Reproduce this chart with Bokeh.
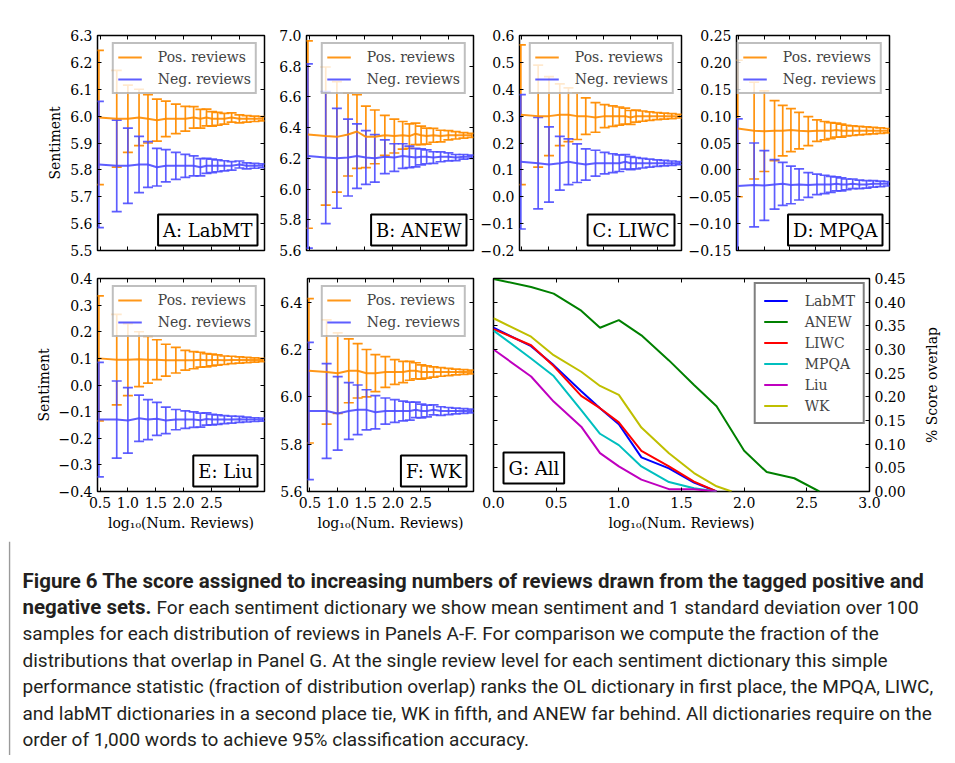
from bokeh.plotting import figure
from bokeh.models import (Range1d, LinearAxis, FixedTicker, Whisker, TeeHead,
                          ColumnDataSource, Legend, LegendItem, Label, Span)
from bokeh.layouts import row, column
from bokeh.embed import file_html
from bokeh.resources import INLINE

SERIF = "DejaVu Serif"
SANS = "Roboto"
ORANGE = "#ff8c00"
BLUE = "#4d4dff"

# ---------------- data ----------------
x_rev = [0.48, 0.80, 1.00, 1.20, 1.36, 1.52, 1.68, 1.86, 2.03, 2.18,
         2.30, 2.41, 2.51, 2.61, 2.73, 2.86, 3.00, 3.13, 3.27, 3.42]
x_ticks = [0.5, 1.0, 1.5, 2.0, 2.5, 3.0]
x_lim = (0.455, 3.45)

A_pos_mean = [5.995, 5.99, 5.99, 5.995, 5.99, 5.985, 5.99, 5.99, 5.99, 5.995, 5.99, 5.995, 5.99, 5.99, 5.99, 5.995, 5.99, 5.99, 5.99, 5.99]
A_pos_std = [0.25, 0.18, 0.125, 0.105, 0.09, 0.078, 0.066, 0.055, 0.046, 0.04, 0.035, 0.031, 0.027, 0.024, 0.02, 0.017, 0.015, 0.012, 0.01, 0.008]
A_neg_mean = [5.82, 5.815, 5.815, 5.82, 5.82, 5.81, 5.815, 5.815, 5.815, 5.815, 5.81, 5.815, 5.815, 5.815, 5.815, 5.815, 5.82, 5.815, 5.815, 5.815]
A_neg_std = [0.235, 0.17, 0.14, 0.105, 0.085, 0.07, 0.06, 0.05, 0.043, 0.037, 0.032, 0.028, 0.025, 0.022, 0.019, 0.016, 0.013, 0.011, 0.009, 0.007]

B_pos_mean = [6.355, 6.345, 6.34, 6.355, 6.375, 6.34, 6.34, 6.35, 6.345, 6.35, 6.345, 6.36, 6.35, 6.345, 6.35, 6.345, 6.35, 6.35, 6.35, 6.35]
B_pos_std = [0.61, 0.45, 0.36, 0.27, 0.24, 0.2, 0.175, 0.13, 0.11, 0.09, 0.08, 0.07, 0.06, 0.052, 0.045, 0.038, 0.03, 0.024, 0.018, 0.013]
B_neg_mean = [6.215, 6.205, 6.2, 6.205, 6.215, 6.205, 6.2, 6.21, 6.205, 6.215, 6.21, 6.205, 6.21, 6.21, 6.205, 6.21, 6.21, 6.205, 6.21, 6.21]
B_neg_std = [0.6, 0.43, 0.325, 0.25, 0.21, 0.175, 0.155, 0.11, 0.09, 0.08, 0.07, 0.06, 0.052, 0.045, 0.038, 0.032, 0.026, 0.02, 0.015, 0.011]

C_pos_mean = [0.305, 0.3, 0.3, 0.305, 0.305, 0.3, 0.3, 0.295, 0.3, 0.3, 0.3, 0.3, 0.295, 0.3, 0.3, 0.3, 0.3, 0.3, 0.3, 0.3]
C_pos_std = [0.26, 0.19, 0.147, 0.115, 0.1, 0.087, 0.068, 0.055, 0.043, 0.038, 0.034, 0.03, 0.026, 0.022, 0.019, 0.016, 0.013, 0.011, 0.009, 0.007]
C_neg_mean = [0.13, 0.125, 0.12, 0.125, 0.13, 0.125, 0.12, 0.125, 0.125, 0.125, 0.125, 0.13, 0.125, 0.125, 0.125, 0.125, 0.125, 0.125, 0.125, 0.125]
C_neg_std = [0.25, 0.17, 0.14, 0.1, 0.085, 0.072, 0.058, 0.048, 0.04, 0.035, 0.031, 0.027, 0.024, 0.021, 0.018, 0.015, 0.012, 0.01, 0.008, 0.006]

D_pos_mean = [0.077, 0.073, 0.072, 0.073, 0.073, 0.074, 0.073, 0.072, 0.073, 0.073, 0.073, 0.074, 0.073, 0.073, 0.073, 0.073, 0.073, 0.073, 0.073, 0.073]
D_pos_std = [0.127, 0.09, 0.075, 0.056, 0.047, 0.04, 0.034, 0.027, 0.02, 0.017, 0.015, 0.013, 0.012, 0.01, 0.009, 0.008, 0.007, 0.006, 0.005, 0.004]
D_neg_mean = [-0.03, -0.028, -0.029, -0.027, -0.026, -0.028, -0.027, -0.028, -0.027, -0.027, -0.027, -0.026, -0.027, -0.027, -0.026, -0.027, -0.027, -0.026, -0.026, -0.026]
D_neg_std = [0.125, 0.078, 0.065, 0.046, 0.04, 0.035, 0.029, 0.023, 0.019, 0.017, 0.015, 0.013, 0.012, 0.01, 0.009, 0.008, 0.007, 0.006, 0.005, 0.004]

E_pos_mean = [0.1, 0.095, 0.095, 0.097, 0.095, 0.095, 0.093, 0.093, 0.093, 0.093, 0.095, 0.093, 0.094, 0.094, 0.093, 0.094, 0.094, 0.094, 0.094, 0.094]
E_pos_std = [0.235, 0.17, 0.135, 0.103, 0.088, 0.075, 0.06, 0.048, 0.037, 0.032, 0.028, 0.025, 0.022, 0.019, 0.016, 0.014, 0.012, 0.01, 0.008, 0.006]
E_neg_mean = [-0.13, -0.13, -0.133, -0.125, -0.13, -0.127, -0.133, -0.13, -0.13, -0.13, -0.132, -0.128, -0.13, -0.13, -0.13, -0.13, -0.129, -0.13, -0.13, -0.13]
E_neg_std = [0.215, 0.145, 0.123, 0.087, 0.075, 0.062, 0.05, 0.038, 0.033, 0.029, 0.026, 0.023, 0.02, 0.018, 0.015, 0.013, 0.011, 0.009, 0.007, 0.006]

F_pos_mean = [6.11, 6.105, 6.1, 6.11, 6.11, 6.1, 6.1, 6.105, 6.105, 6.105, 6.11, 6.11, 6.105, 6.105, 6.105, 6.105, 6.105, 6.105, 6.105, 6.105]
F_pos_std = [0.305, 0.22, 0.17, 0.135, 0.115, 0.1, 0.078, 0.065, 0.052, 0.045, 0.04, 0.034, 0.03, 0.026, 0.022, 0.018, 0.015, 0.012, 0.01, 0.008]
F_neg_mean = [5.94, 5.94, 5.93, 5.94, 5.945, 5.945, 5.935, 5.94, 5.94, 5.94, 5.94, 5.945, 5.94, 5.94, 5.945, 5.94, 5.94, 5.94, 5.94, 5.94]
F_neg_std = [0.29, 0.2, 0.155, 0.12, 0.105, 0.085, 0.07, 0.055, 0.048, 0.042, 0.038, 0.033, 0.029, 0.025, 0.021, 0.018, 0.015, 0.012, 0.01, 0.008]

A_yticks = [5.5, 5.6, 5.7, 5.8, 5.9, 6.0, 6.1, 6.2, 6.3]
B_yticks = [5.6, 5.8, 6.0, 6.2, 6.4, 6.6, 6.8, 7.0]
C_yticks = [-0.2, -0.1, 0.0, 0.1, 0.2, 0.3, 0.4, 0.5, 0.6]
D_yticks = [-0.15, -0.1, -0.05, 0.0, 0.05, 0.1, 0.15, 0.2, 0.25]
E_yticks = [-0.4, -0.3, -0.2, -0.1, 0.0, 0.1, 0.2, 0.3, 0.4]
F_yticks = [5.6, 5.8, 6.0, 6.2, 6.4]

# Panel G: fraction of overlap
g_x = [0.0, 0.30, 0.48, 0.70, 0.85, 1.00, 1.18, 1.40, 1.60, 1.78, 2.00, 2.18, 2.40, 2.60]
wk_x = [0.0, 0.30, 0.48, 0.70, 0.85, 1.00, 1.18, 1.40, 1.60, 1.78, 1.90]
G_labmt = [0.346, 0.307, 0.267, 0.212, 0.176, 0.142, 0.072, 0.049, 0.019, 0.0]
G_anew = [0.449, 0.432, 0.418, 0.382, 0.346, 0.362, 0.33, 0.277, 0.225, 0.18, 0.086, 0.041, 0.028, 0.0]
G_liwc = [0.343, 0.309, 0.265, 0.202, 0.176, 0.146, 0.086, 0.053, 0.021, 0.0]
G_mpqa = [0.34, 0.281, 0.244, 0.172, 0.122, 0.098, 0.053, 0.02, 0.007, 0.0]
G_liu = [0.3, 0.243, 0.19, 0.137, 0.081, 0.053, 0.025, 0.005, 0.005, 0.0]
G_wk = [0.366, 0.327, 0.288, 0.253, 0.223, 0.204, 0.135, 0.081, 0.039, 0.011, 0.0]
G_names = ["LabMT", "ANEW", "LIWC", "MPQA", "Liu", "WK"]
G_colors = ["#0000ff", "#008000", "#ff0000", "#00bfbf", "#bf00bf", "#bfbf00"]
G_xticks = [0.0, 0.5, 1.0, 1.5, 2.0, 2.5, 3.0]
G_yticks = [0.0, 0.05, 0.1, 0.15, 0.2, 0.25, 0.3, 0.35, 0.4, 0.45]
G_xlim = (0.0, 3.0)
G_ylim = (0.0, 0.45)

caption_bold_1 = "Figure 6  The score assigned to increasing numbers of reviews drawn from the tagged positive and"
caption_bold_2 = "negative sets."
caption_rest_2 = "For each sentiment dictionary we show mean sentiment and 1 standard deviation over 100"
caption_lines = [
    "samples for each distribution of reviews in Panels A-F. For comparison we compute the fraction of the",
    "distributions that overlap in Panel G. At the single review level for each sentiment dictionary this simple",
    "performance statistic (fraction of distribution overlap) ranks the OL dictionary in first place, the MPQA, LIWC,",
    "and labMT dictionaries in a second place tie, WK in fifth, and ANEW far behind. All dictionaries require on the",
    "order of 1,000 words to achieve 95% classification accuracy.",
]


def fmt(t, d):
    s = f"{t:.{d}f}"
    if s.startswith("-"):
        s = "\u2212" + s[1:]
    if s.strip("\u22120.") == "":
        s = s.replace("\u2212", "")
    return s


def style_axis(ax, ticks, labels=None):
    ax.ticker = FixedTicker(ticks=ticks)
    ax.major_tick_in = 4
    ax.major_tick_out = 0
    ax.major_tick_line_color = "black"
    ax.major_tick_line_width = 1
    ax.minor_tick_line_color = None
    ax.axis_line_color = None
    if labels is None:
        ax.major_label_overrides = {t: "" for t in ticks}
        ax.major_label_text_font_size = "0px"
        ax.major_label_standoff = 0
    else:
        ax.major_label_overrides = {t: l for t, l in zip(ticks, labels)}
        ax.major_label_text_font = SERIF
        ax.major_label_text_font_size = "14px"
        ax.major_label_text_color = "black"
        ax.major_label_standoff = 5
    ax.axis_label_text_font = SERIF
    ax.axis_label_text_font_size = "14px"
    ax.axis_label_text_font_style = "normal"
    ax.axis_label_text_color = "black"


def make_fig(width, height, xr, yr, left, right, top, bottom, yloc="left"):
    p = figure(width=width, height=height, x_range=Range1d(*xr), y_range=Range1d(*yr),
               output_backend="svg", toolbar_location=None, y_axis_location=yloc,
               min_border_left=left, min_border_right=right,
               min_border_top=top, min_border_bottom=bottom)
    p.xgrid.visible = False
    p.ygrid.visible = False
    p.outline_line_color = "black"
    p.outline_line_width = 1.5
    p.background_fill_color = "white"
    p.border_fill_color = "white"
    return p


def panel_label(p, text, x, y, align, xoff, yoff):
    p.add_layout(Label(x=x, y=y, x_offset=xoff, y_offset=yoff, text=text,
                       text_align=align, text_baseline="bottom",
                       text_font=SERIF, text_font_size="18px", text_color="black",
                       background_fill_color="white", border_line_color="black",
                       border_line_width=2, padding=5))


def sentiment_panel(name, pm, ps, nm, ns, ylim, yticks, ydec, width, height,
                    left, top, bottom, xlabels, ylabel):
    p = make_fig(width, height, x_lim, ylim, left, 4, top, bottom)
    for mean, std, col, al in ((pm, ps, ORANGE, 0.95), (nm, ns, BLUE, 0.9)):
        src = ColumnDataSource(dict(x=x_rev,
                                    lo=[m - s for m, s in zip(mean, std)],
                                    hi=[m + s for m, s in zip(mean, std)]))
        p.add_layout(Whisker(source=src, base="x", lower="lo", upper="hi",
                             dimension="height", line_color=col, line_width=1.7, line_alpha=al,
                             lower_head=TeeHead(size=10, line_color=col, line_width=1.7, line_alpha=al),
                             upper_head=TeeHead(size=10, line_color=col, line_width=1.7, line_alpha=al)))
    rp = p.line(x_rev, pm, line_color=ORANGE, line_width=2, line_alpha=0.9)
    rn = p.line(x_rev, nm, line_color=BLUE, line_width=2, line_alpha=0.9)

    if xlabels:
        style_axis(p.xaxis[0], x_ticks, [fmt(t, 1) if t < 3 else "" for t in x_ticks])
        p.xaxis[0].axis_label = "log\u2081\u2080(Num. Reviews)"
        p.xaxis[0].axis_label_standoff = 4
    else:
        style_axis(p.xaxis[0], x_ticks)
    style_axis(p.yaxis[0], yticks, [fmt(t, ydec) for t in yticks])
    if ylabel:
        p.yaxis[0].axis_label = "Sentiment"
        p.yaxis[0].axis_label_standoff = 4
    top_ax = LinearAxis()
    style_axis(top_ax, x_ticks)
    p.add_layout(top_ax, "above")
    right_ax = LinearAxis()
    style_axis(right_ax, yticks)
    p.add_layout(right_ax, "right")

    leg = Legend(items=[LegendItem(label="Pos. reviews", renderers=[rp]),
                        LegendItem(label="Neg. reviews", renderers=[rn])],
                 location="top_right", margin=7, padding=4, spacing=4,
                 label_height=18, glyph_height=18, glyph_width=24, label_standoff=16,
                 label_text_font=SERIF, label_text_font_size="14px",
                 border_line_color="#808080", border_line_width=2,
                 background_fill_color="white", background_fill_alpha=0.8)
    p.add_layout(leg)
    panel_label(p, name, x_lim[1], ylim[0], "right", -7, 5)
    return p


H1, H2, H3 = 260, 273, 214
pA = sentiment_panel("A: LabMT", A_pos_mean, A_pos_std, A_neg_mean, A_neg_std, (5.5, 6.3), A_yticks, 1,
                     260, H1, 89, 27, 18, False, True)
pB = sentiment_panel("B: ANEW", B_pos_mean, B_pos_std, B_neg_mean, B_neg_std, (5.6, 7.0), B_yticks, 1,
                     209, H1, 38, 27, 18, False, False)
pC = sentiment_panel("C: LIWC", C_pos_mean, C_pos_std, C_neg_mean, C_neg_std, (-0.2, 0.6), C_yticks, 1,
                     208, H1, 36, 27, 18, False, False)
pD = sentiment_panel("D: MPQA", D_pos_mean, D_pos_std, D_neg_mean, D_neg_std, (-0.15, 0.25), D_yticks, 2,
                     208, H1, 37, 27, 18, False, False)
pE = sentiment_panel("E: Liu", E_pos_mean, E_pos_std, E_neg_mean, E_neg_std, (-0.4, 0.4), E_yticks, 1,
                     260, H2, 89, 10, 50, True, True)
pF = sentiment_panel("F: WK", F_pos_mean, F_pos_std, F_neg_mean, F_neg_std, (5.6, 6.5), F_yticks, 1,
                     209, H2, 39, 10, 50, True, False)

# ---- panel G ----
pG = make_fig(442, H2, G_xlim, G_ylim, 16, 50, 10, 50, yloc="right")
g_series = [G_labmt, G_anew, G_liwc, G_mpqa, G_liu, G_wk]
items = []
for name, ys, col in zip(G_names, g_series, G_colors):
    xs = wk_x if name == "WK" else g_x[:len(ys)]
    r = pG.line(xs, ys, line_color=col, line_width=2)
    items.append(LegendItem(label=name, renderers=[r]))
style_axis(pG.xaxis[0], G_xticks, [fmt(t, 1) for t in G_xticks])
pG.xaxis[0].axis_label = "log\u2081\u2080(Num. Reviews)"
pG.xaxis[0].axis_label_standoff = 4
style_axis(pG.yaxis[0], G_yticks, [fmt(t, 2) for t in G_yticks])
g_top = LinearAxis()
style_axis(g_top, G_xticks)
pG.add_layout(g_top, "above")
g_left = LinearAxis()
style_axis(g_left, G_yticks)
pG.add_layout(g_left, "left")
pG.add_layout(Legend(items=items, location="top_right", margin=4, padding=8, spacing=4,
                     label_height=17, glyph_height=17, glyph_width=24, label_standoff=17,
                     label_text_font=SERIF, label_text_font_size="14px",
                     border_line_color="black", border_line_width=2,
                     background_fill_color="white", background_fill_alpha=1.0))
panel_label(pG, "G: All", G_xlim[0], G_ylim[0], "left", 10, 8)

# narrow strip holding the right-hand axis title of panel G (reads bottom to top)
gl = figure(width=24, height=H2, x_range=Range1d(0, 1), y_range=Range1d(*G_ylim),
            output_backend="svg", toolbar_location=None, min_border_left=0, min_border_right=0,
            min_border_top=10, min_border_bottom=50, x_axis_type=None, y_axis_type=None)
gl.grid.visible = False
gl.outline_line_color = None
gl.background_fill_color = "white"
gl.border_fill_color = "white"
gl.add_layout(Label(x=0.5, y=(G_ylim[0] + G_ylim[1]) / 2, text="% Score overlap", angle=90,
                    angle_units="deg", text_align="center", text_baseline="middle",
                    text_font=SERIF, text_font_size="14px", text_color="black"))

# ---- caption ----
CW = 939
cap = figure(width=CW, height=H3, x_range=Range1d(0, CW), y_range=Range1d(0, H3),
             output_backend="svg", toolbar_location=None, min_border=0,
             x_axis_type=None, y_axis_type=None)
cap.grid.visible = False
cap.outline_line_color = None
cap.background_fill_color = "white"
cap.border_fill_color = "white"
cap.add_layout(Span(location=1, dimension="height", line_color="#9a9a9a", line_width=1.5))
TXT = "#231f20"
y0, dy, x0 = 175, 26.5, 14
cap.add_layout(Label(x=x0, y=y0, text=caption_bold_1, text_font=SANS, text_font_style="bold",
                     text_font_size="20.5px", text_color=TXT, text_baseline="middle"))
cap.add_layout(Label(x=x0, y=y0 - dy, text=caption_bold_2, text_font=SANS, text_font_style="bold",
                     text_font_size="20.5px", text_color=TXT, text_baseline="middle"))
cap.add_layout(Label(x=x0 + 134, y=y0 - dy, text=caption_rest_2, text_font=SANS,
                     text_font_size="19px", text_color=TXT, text_baseline="middle"))
for i, line in enumerate(caption_lines):
    cap.add_layout(Label(x=x0, y=y0 - dy * (i + 2), text=line, text_font=SANS,
                         text_font_size="19px", text_color=TXT, text_baseline="middle"))

layout = column(row(pA, pB, pC, pD), row(pE, pF, pG, gl), cap, margin=(8, 0, 0, 8))
open("out.html", "w").write(file_html(layout, INLINE))
